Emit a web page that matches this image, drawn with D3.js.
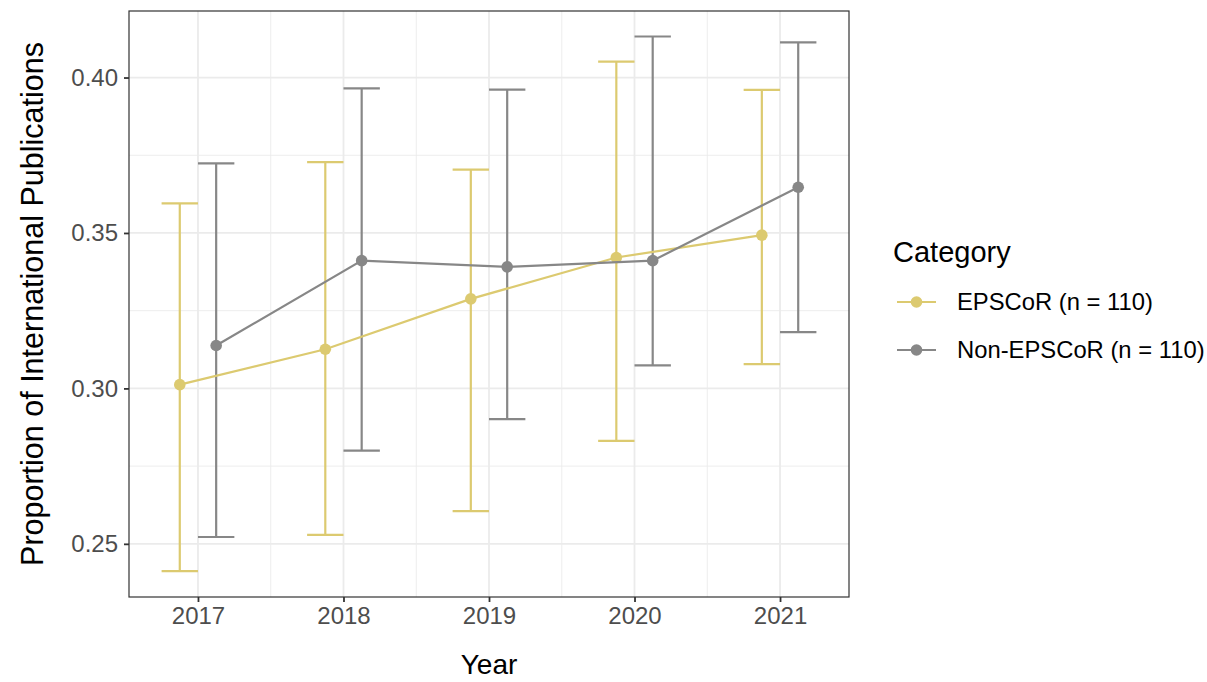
<!DOCTYPE html>
<html>
<head>
<meta charset="utf-8">
<script src="https://cdn.jsdelivr.net/npm/d3@7"></script>
<style>
  body { margin: 0; background: #fff; }
  text { font-family: "Liberation Sans", Arial, sans-serif; }
</style>
</head>
<body>
<div id="chart"></div>
<script>
// data
const years = [2017, 2018, 2019, 2020, 2021];
const categories = ['EPSCoR (n = 110)', 'Non-EPSCoR (n = 110)'];
const epscorMean = [0.3012, 0.3126, 0.3288, 0.3421, 0.3493];
const epscorLow  = [0.2412, 0.2529, 0.2605, 0.2831, 0.3078];
const epscorHigh = [0.3595, 0.3728, 0.3704, 0.4051, 0.3960];
const nonMean = [0.3138, 0.3411, 0.3391, 0.3411, 0.3647];
const nonLow  = [0.2522, 0.2800, 0.2901, 0.3074, 0.3181];
const nonHigh = [0.3724, 0.3965, 0.3961, 0.4132, 0.4113];
const yTicks = [0.25, 0.30, 0.35, 0.40];
const colors = ['#DCCA70', '#878787'];

let width = 1207;
let height = 682;
let margin = { top: 11, right: 358, bottom: 85, left: 129 };
let chartWidth = width - margin.left - margin.right;
let chartHeight = height - margin.top - margin.bottom;

const series = [
    { name: categories[0], mean: epscorMean, low: epscorLow, high: epscorHigh, color: colors[0], dodge: -0.125 },
    { name: categories[1], mean: nonMean, low: nonLow, high: nonHigh, color: colors[1], dodge: 0.125 }
];

let xScale = d3.scaleLinear()
    .domain([2016.526, 2021.474])
    .range([0, chartWidth]);

let yScale = d3.scaleLinear()
    .domain([0.2329, 0.4214])
    .range([chartHeight, 0]);

let svg = d3.select('#chart')
    .append('svg')
    .attr('width', width)
    .attr('height', height);

let g = svg.append('g')
    .attr('transform', `translate(${margin.left},${margin.top})`);

// grid
const minorX = d3.range(2016.5, 2021.6, 1).filter(v => v > xScale.domain()[0] && v < xScale.domain()[1]);
const minorY = [0.275, 0.325, 0.375];

g.append('g').selectAll('line.minor-x')
    .data(minorX).join('line')
    .attr('x1', d => xScale(d)).attr('x2', d => xScale(d))
    .attr('y1', 0).attr('y2', chartHeight)
    .attr('stroke', '#EBEBEB').attr('stroke-width', 0.9);

g.append('g').selectAll('line.minor-y')
    .data(minorY).join('line')
    .attr('x1', 0).attr('x2', chartWidth)
    .attr('y1', d => yScale(d)).attr('y2', d => yScale(d))
    .attr('stroke', '#EBEBEB').attr('stroke-width', 0.9);

g.append('g').selectAll('line.major-x')
    .data(years).join('line')
    .attr('x1', d => xScale(d)).attr('x2', d => xScale(d))
    .attr('y1', 0).attr('y2', chartHeight)
    .attr('stroke', '#EBEBEB').attr('stroke-width', 1.8);

g.append('g').selectAll('line.major-y')
    .data(yTicks).join('line')
    .attr('x1', 0).attr('x2', chartWidth)
    .attr('y1', d => yScale(d)).attr('y2', d => yScale(d))
    .attr('stroke', '#EBEBEB').attr('stroke-width', 1.8);

// axes
let xAxis = d3.axisBottom(xScale)
    .tickValues(years)
    .tickFormat(d3.format('d'))
    .tickSize(5)
    .tickPadding(5);

let yAxis = d3.axisLeft(yScale)
    .tickValues(yTicks)
    .tickFormat(d3.format('.2f'))
    .tickSize(5)
    .tickPadding(6);

let xg = g.append('g')
    .attr('transform', `translate(0,${chartHeight})`)
    .call(xAxis);
let yg = g.append('g').call(yAxis);

[xg, yg].forEach(a => {
    a.select('.domain').remove();
    a.selectAll('.tick line').attr('stroke', '#333333').attr('stroke-width', 1.8);
    a.selectAll('.tick text')
        .attr('fill', '#4D4D4D')
        .style('font-size', '24px')
        .style('font-family', '"Liberation Sans", Arial, sans-serif');
});

// error bars, lines, points
const capHalf = 0.125;
series.forEach(s => {
    let pts = years.map((yr, i) => ({ x: yr + s.dodge, mean: s.mean[i], low: s.low[i], high: s.high[i] }));
    let eg = g.append('g');

    eg.selectAll('line.bar').data(pts).join('line')
        .attr('x1', d => xScale(d.x)).attr('x2', d => xScale(d.x))
        .attr('y1', d => yScale(d.low)).attr('y2', d => yScale(d.high))
        .attr('stroke', s.color).attr('stroke-width', 2.2);

    ['low', 'high'].forEach(k => {
        eg.selectAll('line.cap-' + k).data(pts).join('line')
            .attr('x1', d => xScale(d.x - capHalf)).attr('x2', d => xScale(d.x + capHalf))
            .attr('y1', d => yScale(d[k])).attr('y2', d => yScale(d[k]))
            .attr('stroke', s.color).attr('stroke-width', 2.2);
    });

    s.pts = pts;
});

series.forEach(s => {
    let line = d3.line().x(d => xScale(d.x)).y(d => yScale(d.mean));
    g.append('path')
        .datum(s.pts)
        .attr('d', line)
        .attr('fill', 'none')
        .attr('stroke', s.color)
        .attr('stroke-width', 2.2);

    g.append('g').selectAll('circle').data(s.pts).join('circle')
        .attr('cx', d => xScale(d.x))
        .attr('cy', d => yScale(d.mean))
        .attr('r', 5.8)
        .attr('fill', s.color);
});

// panel border
g.append('rect')
    .attr('width', chartWidth).attr('height', chartHeight)
    .attr('fill', 'none')
    .attr('stroke', '#333333')
    .attr('stroke-width', 1.2);

// axis titles
svg.append('text')
    .attr('x', margin.left + chartWidth / 2)
    .attr('y', 674)
    .attr('text-anchor', 'middle')
    .style('font-size', '28px')
    .attr('fill', '#000')
    .text('Year');

svg.append('text')
    .attr('transform', `translate(43,${margin.top + chartHeight / 2}) rotate(-90)`)
    .attr('text-anchor', 'middle')
    .style('font-size', '30.5px')
    .attr('fill', '#000')
    .text('Proportion of International Publications');

// legend
let legend = svg.append('g').attr('transform', 'translate(893,0)');
legend.append('text')
    .attr('x', 0).attr('y', 262)
    .style('font-size', '29px')
    .attr('fill', '#000')
    .text('Category');

series.forEach((s, i) => {
    let ly = 302 + i * 48;
    legend.append('line')
        .attr('x1', 4).attr('x2', 43)
        .attr('y1', ly).attr('y2', ly)
        .attr('stroke', s.color).attr('stroke-width', 2.2);
    legend.append('circle')
        .attr('cx', 23.5).attr('cy', ly).attr('r', 5.8)
        .attr('fill', s.color);
    legend.append('text')
        .attr('x', 64).attr('y', ly)
        .attr('dy', '0.35em')
        .style('font-size', '23.8px')
        .attr('fill', '#000')
        .text(s.name);
});
</script>
</body>
</html>
